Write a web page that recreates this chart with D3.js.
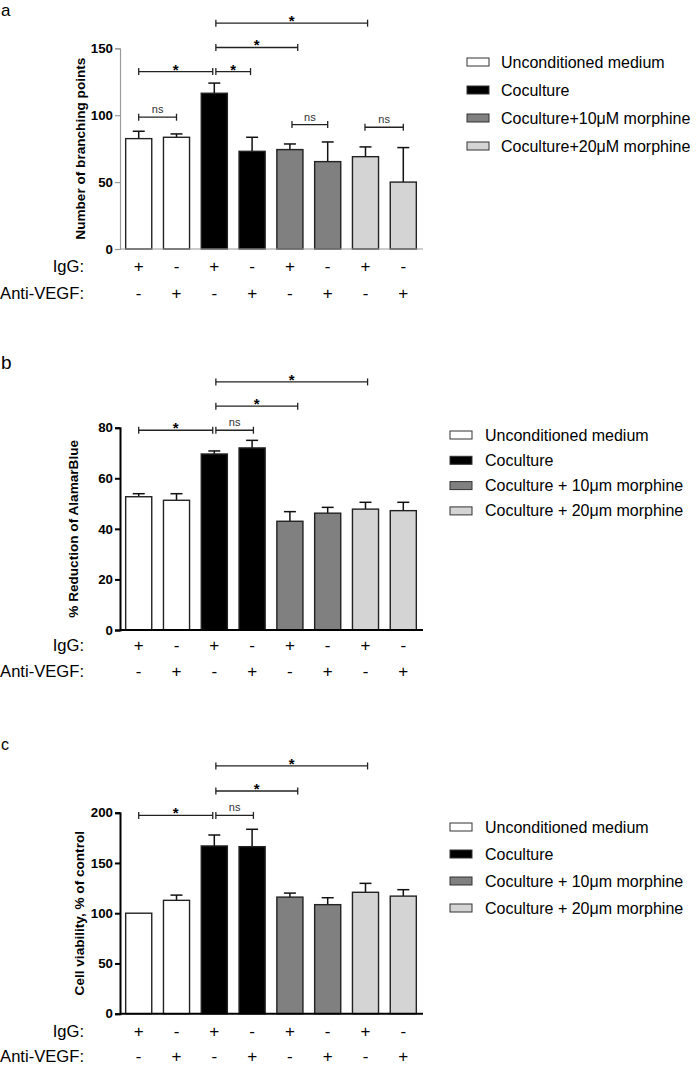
<!DOCTYPE html>
<html><head><meta charset="utf-8">
<script src="https://cdn.jsdelivr.net/npm/d3@7"></script>
<style>body{margin:0;background:#fff}svg{display:block}text{font-family:"Liberation Sans",Arial,sans-serif}</style>
</head><body>
<svg id="c" width="697" height="1066"></svg>
<script>
// ---------- data ----------
const categories = ["UM IgG","UM anti-VEGF","CC IgG","CC anti-VEGF","M10 IgG","M10 anti-VEGF","M20 IgG","M20 anti-VEGF"];
const groupOf = [0,0,1,1,2,2,3,3];
const iggSigns = ["+","-","+","-","+","-","+","-"];
const antiSigns = ["-","+","-","+","-","+","-","+"];
const groupColors = ["#ffffff","#000000","#808080","#d4d4d4"];

const branchMeans = [82.5, 83.5, 116.4, 73, 74.3, 65.3, 69, 50];
const branchSEM   = [5.5, 2.5, 7.6, 10.5, 4.2, 14.7, 7.3, 25.8];
const branchTicks = [0, 50, 100, 150];

const alamarMeans = [52.7, 51.3, 69.6, 72, 43, 46.2, 47.8, 47.2];
const alamarSEM   = [1.2, 2.6, 1.2, 3, 3.8, 2.3, 2.7, 3.3];
const alamarTicks = [0, 20, 40, 60, 80];

const viabMeans = [100, 112.8, 166.9, 166.2, 116, 108.5, 120.8, 117];
const viabSEM   = [0, 5.2, 10.9, 17.3, 4, 6.9, 8.9, 6.4];
const viabTicks = [0, 50, 100, 150, 200];

const legendA = ["Unconditioned medium","Coculture","Coculture+10\u03bcM morphine","Coculture+20\u03bcM morphine"];
const legendBC = ["Unconditioned medium","Coculture","Coculture + 10\u03bcm morphine","Coculture + 20\u03bcm morphine"];

// brackets: [fromPos, toPos, yValue, label] positions in band units (index + fraction of bar)
const bracketsA = [[0.5,2.44,132.6,"*"],[2.56,3.44,132.6,"*"],[2.56,4.8,150.6,"*"],[2.56,6.58,168.8,"*"],[0.5,1.5,98.5,"ns"],[4.58,5.5,93,"ns"],[6.48,7.5,91,"ns"]];
const bracketsB = [[0.5,2.44,79,"*"],[2.56,3.55,79,"ns"],[2.56,4.8,88.5,"*"],[2.56,6.58,98.1,"*"]];
const bracketsC = [[0.5,2.44,197.3,"*"],[2.56,3.55,197.3,"ns"],[2.56,4.8,221.6,"*"],[2.56,6.58,246.5,"*"]];

// ---------- drawing ----------
const svg = d3.select("#c");
const x = d3.scaleBand().domain(categories).range([120,422]).paddingInner(0.31).paddingOuter(0.15);
const bw = x.bandwidth();
const pos = p => x(categories[Math.floor(p)]) + (p - Math.floor(p)) * bw;

function panel(o){
  const g = svg.append("g");
  const y = d3.scaleLinear().domain([0, o.ticks[o.ticks.length-1]]).range([o.y0, o.yTop]);
  // letter
  g.append("text").attr("x",1).attr("y",o.letterY).attr("font-size",o.letterSize).text(o.letter);
  // bars
  const bars = g.selectAll(".bar").data(o.means).enter();
  bars.append("line")
    .attr("x1",(d,i)=>x(categories[i])+bw/2).attr("x2",(d,i)=>x(categories[i])+bw/2)
    .attr("y1",(d)=>y(d)).attr("y2",(d,i)=>y(d+o.sem[i]))
    .attr("stroke","#111").attr("stroke-width",1.5).attr("display",(d,i)=>o.sem[i]>0?null:"none");
  bars.append("line")
    .attr("x1",(d,i)=>x(categories[i])+bw/2-6).attr("x2",(d,i)=>x(categories[i])+bw/2+6)
    .attr("y1",(d,i)=>y(d+o.sem[i])).attr("y2",(d,i)=>y(d+o.sem[i]))
    .attr("stroke","#111").attr("stroke-width",1.5).attr("display",(d,i)=>o.sem[i]>0?null:"none");
  bars.append("rect")
    .attr("x",(d,i)=>x(categories[i])).attr("width",bw)
    .attr("y",d=>y(d)).attr("height",d=>y(0)-y(d))
    .attr("fill",(d,i)=>groupColors[groupOf[i]]).attr("stroke","#222").attr("stroke-width",1.4);
  // axes
  const ax = g.append("g").attr("transform",`translate(120,0)`)
    .call(d3.axisLeft(y).tickValues(o.ticks).tickSize(5).tickPadding(2));
  ax.select(".domain").attr("stroke",o.axisColor).attr("stroke-width",o.axisW);
  ax.selectAll(".tick line").attr("stroke",o.axisColor).attr("stroke-width",o.axisW);
  ax.selectAll(".tick text").attr("font-size",13.3).attr("font-weight","bold")
    .attr("font-family","'Liberation Sans',Arial,sans-serif").attr("fill","#000");
  g.append("line").attr("x1",120).attr("x2",423).attr("y1",y(0)).attr("y2",y(0))
    .attr("stroke",o.axisColor).attr("stroke-width",o.axisW);
  // y title
  g.append("text").attr("transform",`translate(${o.titleX},${(o.y0+o.yTop)/2}) rotate(-90)`)
    .attr("text-anchor","middle").attr("font-size",13.6).attr("font-weight","bold").text(o.title);
  // sign rows
  g.append("text").attr("x",84).attr("y",o.row1).attr("text-anchor","end").attr("font-size",16.6).text("IgG:");
  g.append("text").attr("x",84).attr("y",o.row2).attr("text-anchor","end").attr("font-size",16.6).text("Anti-VEGF:");
  g.selectAll(".s1").data(iggSigns).enter().append("text")
    .attr("x",(d,i)=>x(categories[i])+bw/2).attr("y",o.row1).attr("text-anchor","middle").attr("font-size",17).text(d=>d);
  g.selectAll(".s2").data(antiSigns).enter().append("text")
    .attr("x",(d,i)=>x(categories[i])+bw/2).attr("y",o.row2).attr("text-anchor","middle").attr("font-size",17).text(d=>d);
  // brackets
  o.brackets.forEach(b=>{
    const x1=pos(b[0]), x2=pos(b[1]), yy=y(b[2]);
    g.append("line").attr("x1",x1).attr("x2",x2).attr("y1",yy).attr("y2",yy).attr("stroke","#222").attr("stroke-width",1.3);
    [x1,x2].forEach(xx=>g.append("line").attr("x1",xx).attr("x2",xx).attr("y1",yy-3.5).attr("y2",yy+3.5).attr("stroke","#222").attr("stroke-width",1.3));
    if(b[3]==="*"){
      g.append("text").attr("x",(x1+x2)/2).attr("y",yy+3).attr("text-anchor","middle").attr("font-size",15).attr("font-weight","bold").text("*");
    } else {
      g.append("text").attr("x",(x1+x2)/2).attr("y",yy-4).attr("text-anchor","middle").attr("font-size",11).attr("fill","#333").text("ns");
    }
  });
  // legend
  o.legend.forEach((t,i)=>{
    const cy = o.legY + i*o.legStep;
    g.append("rect").attr("x",o.legX).attr("y",cy-4).attr("width",22).attr("height",8)
      .attr("fill",groupColors[i]).attr("stroke","#333").attr("stroke-width",1);
    g.append("text").attr("x",o.legTX).attr("y",cy+5.5).attr("font-size",16).text(t);
  });
}

panel({letter:"a",letterY:16,letterSize:17,means:branchMeans,sem:branchSEM,ticks:branchTicks,y0:249,yTop:48.3,
  axisColor:"#9a9a9a",axisW:1.2,title:"Number of branching points",titleX:84.5,row1:272,row2:298.5,
  brackets:bracketsA,legend:legendA,legX:467,legTX:501,legY:62,legStep:28});
panel({letter:"b",letterY:369,letterSize:19,means:alamarMeans,sem:alamarSEM,ticks:alamarTicks,y0:630,yTop:427.7,
  axisColor:"#000",axisW:2,title:"% Reduction of AlamarBlue",titleX:78,row1:650.5,row2:676.5,
  brackets:bracketsB,legend:legendBC,legX:450,legTX:485,legY:435,legStep:25.3});
panel({letter:"c",letterY:750,letterSize:16,means:viabMeans,sem:viabSEM,ticks:viabTicks,y0:1013.7,yTop:812.7,
  axisColor:"#000",axisW:2,title:"Cell viability, % of control",titleX:83.5,row1:1037,row2:1062,
  brackets:bracketsC,legend:legendBC,legX:450,legTX:485,legY:827,legStep:27});
</script>
</body></html>
